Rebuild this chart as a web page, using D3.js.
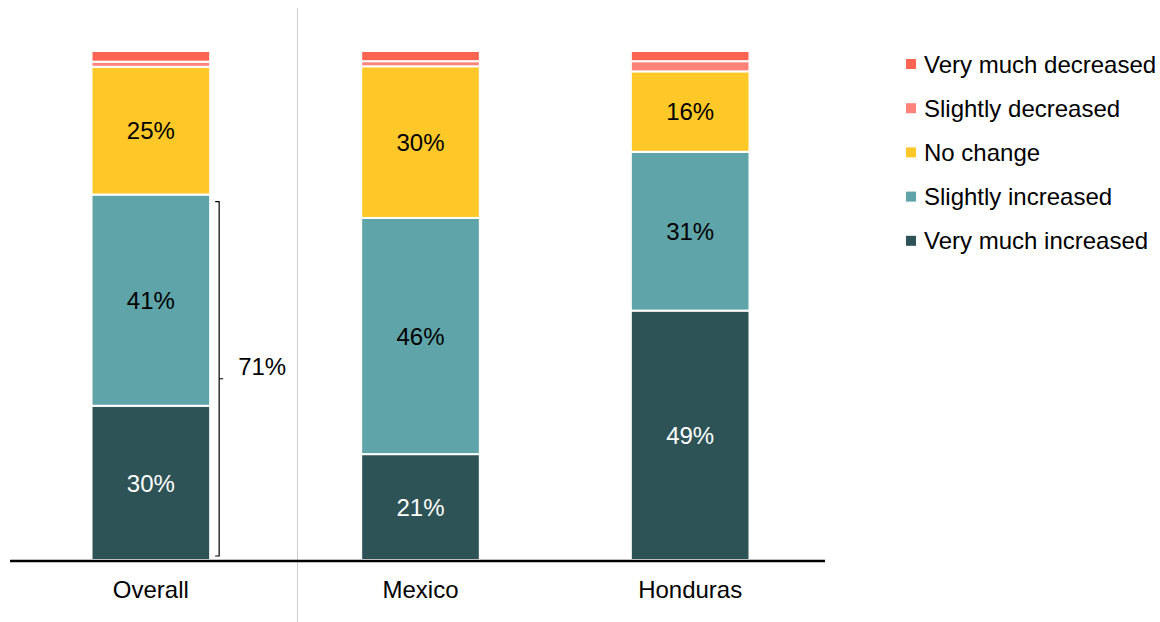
<!DOCTYPE html>
<html><head><meta charset="utf-8">
<script src="https://cdn.jsdelivr.net/npm/d3@7"></script>
<style>body{margin:0;background:#fff;} svg{display:block;font-family:"Liberation Sans",Arial,sans-serif;}</style>
</head><body>
<svg id="chart" width="1160" height="622"></svg>
<script>
const categories = ["Overall", "Mexico", "Honduras"];
const seriesNames = ["Very much increased", "Slightly increased", "No change", "Slightly decreased", "Very much decreased"];
const veryMuchIncreased = [30.3, 20.8, 49.0];
const slightlyIncreased = [41.5, 46.4, 31.2];
const noChange = [25.1, 29.8, 15.8];
const slightlyDecreased = [1.0, 1.0, 2.0];
const veryMuchDecreased = [2.1, 2.0, 2.0];
const labelsVMI = ["30%", "21%", "49%"];
const labelsSI = ["41%", "46%", "31%"];
const labelsNC = ["25%", "30%", "16%"];
const bracketLabel = "71%";
const colors = ["#2d5356", "#5ea4a9", "#fec928", "#fd837a", "#fd6451"];
const legendOrder = ["Very much decreased", "Slightly decreased", "No change", "Slightly increased", "Very much increased"];

const seriesVals = [veryMuchIncreased, slightlyIncreased, noChange, slightlyDecreased, veryMuchDecreased];
const seriesLabels = [labelsVMI, labelsSI, labelsNC, null, null];
const labelColors = ["#fff", "#000", "#000", null, null];
const FS = 24;

const table = categories.map((c, i) => {
  const o = {category: c};
  seriesNames.forEach((s, k) => o[s] = seriesVals[k][i]);
  return o;
});
const stack = d3.stack().keys(seriesNames)(table);

const svg = d3.select("#chart");
const x = d3.scaleBand().domain(categories).range([16, 825]).paddingInner(0.56).paddingOuter(0.28);
const y = d3.scaleLinear().domain([0, 100]).range([560, 51]);
const color = d3.scaleOrdinal().domain(seriesNames).range(colors);

// separator
svg.append("line").attr("x1", 297.5).attr("x2", 297.5).attr("y1", 8).attr("y2", 622)
  .attr("stroke", "#cfcfcf").attr("stroke-width", 1);

stack.forEach((layer, k) => {
  const g = svg.append("g");
  g.selectAll("rect").data(layer).join("rect")
    .attr("x", d => x(d.data.category))
    .attr("width", x.bandwidth())
    .attr("y", d => y(d[1]))
    .attr("height", d => y(d[0]) - y(d[1]))
    .attr("fill", color(layer.key))
    .attr("stroke", "#fff").attr("stroke-width", 2);
  if (seriesLabels[k]) {
    g.selectAll("text").data(layer).join("text")
      .attr("x", d => x(d.data.category) + x.bandwidth() / 2)
      .attr("y", d => (y(d[0]) + y(d[1])) / 2)
      .attr("dy", "0.36em")
      .attr("text-anchor", "middle")
      .attr("font-size", FS)
      .attr("fill", labelColors[k])
      .text((d, i) => seriesLabels[k][i]);
  }
});

// axis
const axis = svg.append("g").attr("transform", "translate(0,561)")
  .call(d3.axisBottom(x).tickSize(0).tickPadding(20));
axis.select(".domain").remove();
axis.selectAll("text").attr("font-size", FS).attr("fill", "#000").attr("font-family", "Liberation Sans, Arial, sans-serif");
svg.append("line").attr("x1", 10).attr("x2", 825).attr("y1", 561).attr("y2", 561)
  .attr("stroke", "#000").attr("stroke-width", 2.5);

// bracket for Overall increased
const bTop = y(veryMuchIncreased[0] + slightlyIncreased[0]) + 7;
const bBot = y(0) - 4;
const bx = x("Overall") + x.bandwidth() + 9;
const bMid = (bTop + bBot) / 2;
svg.append("path")
  .attr("d", `M${bx - 4},${bTop}H${bx}V${bBot}H${bx - 4}M${bx},${bMid}H${bx + 4}`)
  .attr("fill", "none").attr("stroke", "#000").attr("stroke-width", 1.2);
svg.append("text").attr("x", bx + 19).attr("y", bMid - 12).attr("dy", "0.36em")
  .attr("font-size", FS).text(bracketLabel);

// legend
const leg = svg.append("g");
legendOrder.forEach((s, i) => {
  const ly = 64 + i * 44.2;
  leg.append("rect").attr("x", 906).attr("y", ly - 5).attr("width", 10).attr("height", 10).attr("fill", color(s));
  leg.append("text").attr("x", 924).attr("y", ly).attr("dy", "0.36em").attr("font-size", FS).text(s);
});
</script>
</body></html>
